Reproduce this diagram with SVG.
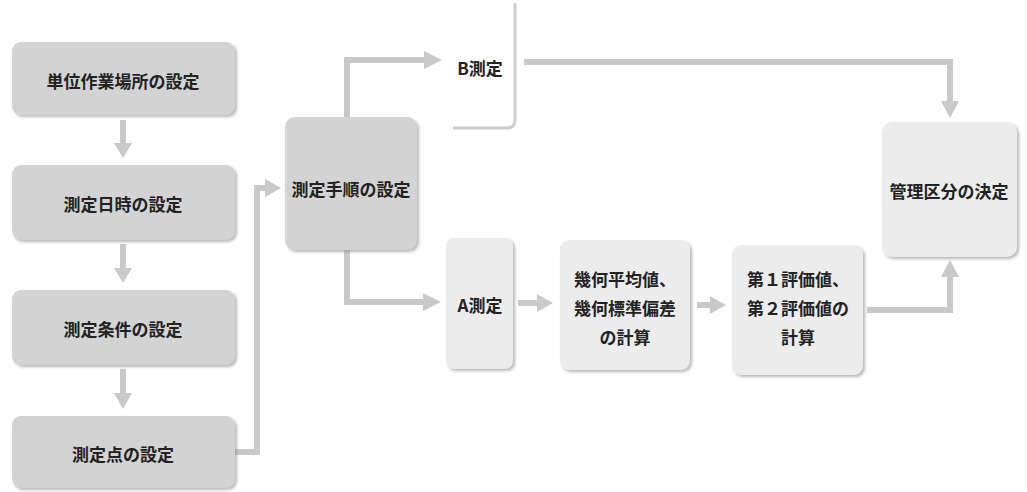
<svg xmlns="http://www.w3.org/2000/svg" width="1027" height="492" viewBox="0 0 1027 492">
<style>
.t{font-family:"Noto Sans CJK JP","Noto Sans",sans-serif;font-size:17px;font-weight:bold;fill:#222;text-anchor:middle;dominant-baseline:central}
.dark{fill:#d3d3d3}
.light{fill:#ececec}
.ln{fill:none;stroke:#c9c9c9;stroke-width:6}
.hd{fill:#c9c9c9}
</style>
<defs>
<filter id="sh" x="-10%" y="-10%" width="125%" height="125%">
<feDropShadow dx="2" dy="2" stdDeviation="1.5" flood-color="#888" flood-opacity="0.6"/>
</filter>
</defs>
<rect width="1027" height="492" fill="#fff"/>
<g id="connectors">
<path class="ln" d="M123,120 V146"/><polygon class="hd" points="114,143 132,143 123,158"/>
<path class="ln" d="M123,244 V271"/><polygon class="hd" points="114,268 132,268 123,283"/>
<path class="ln" d="M123,369 V396"/><polygon class="hd" points="114,393 132,393 123,409"/>
<path class="ln" d="M235,452 H257 V188 H267"/><polygon class="hd" points="265,179 281,188 265,197"/>
<path class="ln" d="M347,117 V60 H426"/><polygon class="hd" points="424,51 442,60 424,69"/>
<path class="ln" d="M347,250 V302 H425"/><polygon class="hd" points="423,293 441,302 423,311"/>
<path class="ln" d="M518,303 H539"/><polygon class="hd" points="537,294 553,303 537,312"/>
<path class="ln" d="M697,305 H712"/><polygon class="hd" points="710,296 726,305 710,314"/>
<path class="ln" d="M867,310 H950 V275"/><polygon class="hd" points="941,277 950,260 959,277"/>
<path class="ln" d="M524,62 H950 V102"/><polygon class="hd" points="941,101 950,118 959,101"/>
</g>
<g id="n1"><rect class="dark" x="12" y="42" width="223" height="73" rx="9" filter="url(#sh)"/><text class="t" x="123" y="80">単位作業場所の設定</text></g>
<g id="n2"><rect class="dark" x="12" y="165" width="223" height="75" rx="9" filter="url(#sh)"/><text class="t" x="123" y="203">測定日時の設定</text></g>
<g id="n3"><rect class="dark" x="12" y="290" width="223" height="75" rx="9" filter="url(#sh)"/><text class="t" x="123" y="328">測定条件の設定</text></g>
<g id="n4"><rect class="dark" x="12" y="416" width="223" height="72" rx="9" filter="url(#sh)"/><text class="t" x="123" y="453">測定点の設定</text></g>
<g id="n5"><rect class="dark" x="285" y="117" width="132" height="133" rx="10" filter="url(#sh)"/><text class="t" x="351" y="188">測定手順の設定</text></g>
<g id="n6"><path d="M515,3 V120 Q515,128 507,128 H453" fill="none" stroke="#cdcdcd" stroke-width="3"/><text class="t" x="480" y="67">B測定</text></g>
<g id="n7"><rect class="light" x="446" y="238" width="67" height="131" rx="8" filter="url(#sh)"/><text class="t" x="480" y="304">A測定</text></g>
<g id="n8"><rect class="light" x="560" y="240" width="130" height="130" rx="9" filter="url(#sh)"/><text class="t" x="625" y="278">幾何平均値、</text><text class="t" x="625" y="307">幾何標準偏差</text><text class="t" x="625" y="336">の計算</text></g>
<g id="n9"><rect class="light" x="732" y="245" width="131" height="130" rx="9" filter="url(#sh)"/><text class="t" x="798" y="278">第１評価値、</text><text class="t" x="798" y="307">第２評価値の</text><text class="t" x="798" y="336">計算</text></g>
<g id="n10"><rect class="light" x="882" y="122" width="135" height="135" rx="10" filter="url(#sh)"/><text class="t" x="949" y="190">管理区分の決定</text></g>
</svg>
